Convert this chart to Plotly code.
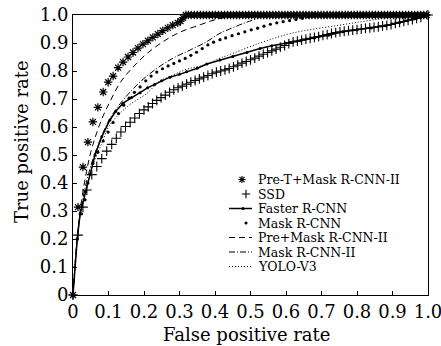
import plotly.graph_objects as go

# ---------------- data ----------------
pret_x = [0, 0.014, 0.028, 0.042, 0.056, 0.070, 0.085, 0.099, 0.113, 0.127, 0.141, 0.155,
          0.169, 0.183, 0.197, 0.211, 0.225, 0.239, 0.253, 0.267, 0.281, 0.295, 0.303, 0.310,
          0.318,
          0.325, 0.333, 0.342, 0.350, 0.359, 0.367, 0.376, 0.384, 0.393, 0.401, 0.410, 0.418,
          0.427, 0.435, 0.444, 0.452, 0.461, 0.469, 0.478, 0.486, 0.495, 0.503, 0.512, 0.520,
          0.529, 0.537, 0.546, 0.554, 0.563, 0.571, 0.580, 0.588, 0.597, 0.605, 0.614, 0.622,
          0.631, 0.639, 0.648, 0.656, 0.665, 0.673, 0.682, 0.690, 0.699, 0.707, 0.716, 0.724,
          0.733, 0.741, 0.750, 0.758, 0.767, 0.775, 0.784, 0.792, 0.801, 0.809, 0.818, 0.826,
          0.835, 0.843, 0.852, 0.860, 0.869, 0.877, 0.886, 0.894, 0.903, 0.911, 0.920, 0.928,
          0.937, 0.945, 0.954, 0.962, 0.971, 0.979, 0.988, 0.996]
pret_y = [0, 0.314, 0.457, 0.546, 0.618, 0.670, 0.725, 0.760, 0.782, 0.812, 0.832, 0.850,
          0.866, 0.882, 0.896, 0.908, 0.920, 0.932, 0.944, 0.954, 0.964, 0.972, 0.978, 0.990,
          1.0] + [1.0] * 80

ssd_x = [0, 0.014, 0.028, 0.039, 0.053, 0.067, 0.081, 0.095, 0.109, 0.122, 0.135, 0.148,
         0.161, 0.174, 0.187, 0.200, 0.212, 0.224, 0.236, 0.248, 0.260, 0.272, 0.284, 0.296,
         0.308, 0.320, 0.332, 0.344, 0.356, 0.368, 0.380, 0.392, 0.404, 0.416, 0.428, 0.440,
         0.452, 0.464, 0.476, 0.488, 0.500, 0.512, 0.524, 0.536, 0.548, 0.560, 0.572, 0.584,
         0.596, 0.608, 0.620, 0.632, 0.644, 0.656, 0.668, 0.680, 0.692, 0.704, 0.716, 0.728,
         0.740, 0.752, 0.764, 0.776, 0.788, 0.800, 0.812, 0.824, 0.836, 0.848, 0.860, 0.872,
         0.884, 0.896, 0.908, 0.920, 0.932, 0.944, 0.956, 0.968, 0.980, 1.0]
ssd_y = [0, 0.214, 0.314, 0.375, 0.430, 0.459, 0.487, 0.514, 0.538, 0.560, 0.582, 0.602,
         0.617, 0.632, 0.648, 0.661, 0.672, 0.684, 0.695, 0.705, 0.714, 0.724, 0.733, 0.740,
         0.746, 0.753, 0.760, 0.766, 0.772, 0.778, 0.784, 0.790, 0.796, 0.800, 0.804, 0.809,
         0.815, 0.821, 0.828, 0.834, 0.840, 0.846, 0.853, 0.860, 0.866, 0.872, 0.878, 0.885,
         0.891, 0.898, 0.904, 0.907, 0.910, 0.914, 0.917, 0.920, 0.923, 0.927, 0.930, 0.934,
         0.937, 0.940, 0.942, 0.944, 0.946, 0.948, 0.950, 0.952, 0.954, 0.956, 0.958, 0.961,
         0.963, 0.966, 0.970, 0.974, 0.977, 0.981, 0.984, 0.988, 0.992, 1.0]

faster_x = [0, 0.005, 0.012, 0.020, 0.035, 0.048, 0.062, 0.081, 0.104, 0.120, 0.141, 0.165,
            0.189, 0.210, 0.230, 0.250, 0.273, 0.300, 0.320, 0.350, 0.377, 0.414, 0.450,
            0.490, 0.527, 0.560, 0.600, 0.640, 0.680, 0.720, 0.760, 0.800, 0.840, 0.880,
            0.920, 0.960, 1.0]
faster_y = [0, 0.100, 0.200, 0.290, 0.370, 0.430, 0.500, 0.565, 0.625, 0.655, 0.685, 0.705,
            0.722, 0.740, 0.752, 0.765, 0.778, 0.788, 0.797, 0.810, 0.825, 0.839, 0.852,
            0.866, 0.880, 0.890, 0.899, 0.908, 0.918, 0.928, 0.940, 0.947, 0.954, 0.962,
            0.973, 0.986, 1.0]

mask_x = [0, 0.012, 0.024, 0.034, 0.042, 0.056, 0.070, 0.085, 0.099, 0.113, 0.128, 0.143,
          0.158, 0.173, 0.189, 0.205, 0.220, 0.236, 0.252, 0.268, 0.284, 0.300, 0.316, 0.332,
          0.348, 0.364, 0.380, 0.396, 0.414, 0.430, 0.448, 0.466, 0.484, 0.502, 0.520, 0.538,
          0.556, 0.574, 0.592, 0.610, 0.628, 0.646, 0.664, 0.682, 0.700, 0.750, 0.800, 0.850,
          0.900, 0.950, 1.0]
mask_y = [0, 0.200, 0.290, 0.340, 0.400, 0.470, 0.510, 0.550, 0.582, 0.616, 0.648, 0.678,
          0.703, 0.724, 0.743, 0.765, 0.782, 0.796, 0.808, 0.818, 0.827, 0.836, 0.845, 0.856,
          0.867, 0.880, 0.893, 0.903, 0.912, 0.918, 0.926, 0.933, 0.940, 0.947, 0.953, 0.960,
          0.967, 0.972, 0.976, 0.980, 0.984, 0.988, 0.993, 0.997, 1.0, 1.0, 1.0, 1.0,
          1.0, 1.0, 1.0]

premask_x = [0, 0.010, 0.020, 0.035, 0.050, 0.067, 0.085, 0.104, 0.132, 0.169, 0.208, 0.254,
             0.300, 0.358, 0.405, 0.450, 0.500, 1.0]
premask_y = [0, 0.180, 0.300, 0.420, 0.510, 0.580, 0.640, 0.690, 0.757, 0.814, 0.862, 0.905,
             0.938, 0.965, 0.985, 0.995, 1.0, 1.0]

maskii_x = [0, 0.020, 0.050, 0.080, 0.104, 0.141, 0.189, 0.237, 0.282, 0.330, 0.377, 0.414,
            0.434, 0.480, 0.507, 0.550, 1.0]
maskii_y = [0, 0.290, 0.460, 0.565, 0.630, 0.696, 0.761, 0.810, 0.846, 0.875, 0.905, 0.935,
            0.946, 0.970, 0.982, 1.0, 1.0]

yolo_x = [0, 0.020, 0.050, 0.067, 0.085, 0.100, 0.152, 0.208, 0.245, 0.265, 0.320, 0.377,
          0.414, 0.434, 0.527, 0.620, 0.752, 0.845, 0.950, 1.0]
yolo_y = [0, 0.280, 0.440, 0.500, 0.553, 0.600, 0.672, 0.720, 0.765, 0.776, 0.806, 0.824,
          0.846, 0.855, 0.900, 0.936, 0.964, 0.982, 1.0, 1.0]

names = ["Pre-T+Mask R-CNN-II", "SSD", "Faster R-CNN", "Mask R-CNN",
         "Pre+Mask R-CNN-II", "Mask R-CNN-II", "YOLO-V3"]

tick_vals = [0, 0.1, 0.2, 0.3, 0.4, 0.5, 0.6, 0.7, 0.8, 0.9, 1.0]
tick_text = ["0", "0.1", "0.2", "0.3", "0.4", "0.5", "0.6", "0.7", "0.8", "0.9", "1.0"]

x_title = "False positive rate"
y_title = "True positive rate"

# ---------------- styles ----------------
FONT = "DejaVu Serif"
W, H = 441, 346
ML, MR, MT, MB = 73, 13, 15, 51
PW, PH = W - ML - MR, H - MT - MB

asterisk = dict(symbol="asterisk-open", size=7, color="black", line=dict(color="black", width=1.2))
plus = dict(symbol="cross-thin-open", size=7, color="black", line=dict(color="black", width=1.1))
dot = dict(symbol="circle", size=3.2, color="black")
fdot = dict(symbol="circle", size=3, color="black")

series = [
    dict(x=pret_x, y=pret_y, mode="markers", marker=asterisk),
    dict(x=ssd_x, y=ssd_y, mode="markers", marker=plus),
    dict(x=faster_x, y=faster_y, mode="lines+markers", marker=fdot,
         line=dict(color="black", width=1.5)),
    dict(x=mask_x, y=mask_y, mode="markers", marker=dot),
    dict(x=premask_x, y=premask_y, mode="lines",
         line=dict(color="black", width=1, dash="6px,4px", shape="spline")),
    dict(x=maskii_x, y=maskii_y, mode="lines",
         line=dict(color="black", width=1, dash="6px,2px,1px,2px", shape="spline")),
    dict(x=yolo_x, y=yolo_y, mode="lines",
         line=dict(color="black", width=1, dash="1px,2px", shape="spline")),
]

fig = go.Figure()
for nm, s in zip(names, series):
    fig.add_trace(go.Scatter(name=nm, showlegend=False, cliponaxis=False, **s))


def fx(px):
    return (px - ML) / PW


def fy(py):
    return (MT + PH - py) / PH


# ---------------- custom legend (drawn on a helper overlay axis) ----------------
row0, rowgap = 179.5, 14.5
line_l, line_r, text_l = 229, 252, 257
marker_px = [242, 246, 243, 246]
legend_marker_size = [6, 6, None, 3]
for i, (nm, s) in enumerate(zip(names, series)):
    yy = fy(row0 + rowgap * i)
    if s["mode"] == "markers":
        mk = dict(s["marker"])
        mk["size"] = legend_marker_size[i]
        fig.add_trace(go.Scatter(x=[fx(marker_px[i])], y=[yy], mode="markers",
                                 marker=mk, xaxis="x2", yaxis="y2",
                                 showlegend=False, hoverinfo="skip", cliponaxis=False))
    else:
        fig.add_trace(go.Scatter(x=[fx(line_l), fx(line_r)], y=[yy, yy], mode="lines",
                                 line=dict(color="black", width=s["line"]["width"],
                                           dash=s["line"].get("dash", "solid")),
                                 xaxis="x2", yaxis="y2", showlegend=False,
                                 hoverinfo="skip", cliponaxis=False))
        if s["mode"] == "lines+markers":
            fig.add_trace(go.Scatter(x=[fx(243)], y=[yy], mode="markers", marker=s["marker"],
                                     xaxis="x2", yaxis="y2", showlegend=False,
                                     hoverinfo="skip", cliponaxis=False))
    fig.add_annotation(x=fx(text_l), y=yy, xref="paper", yref="paper", text=nm,
                       showarrow=False, xanchor="left", yanchor="middle", borderpad=0,
                       font=dict(family=FONT, size=12.5, color="black"))

# axis titles placed as in the reference
fig.add_annotation(x=fx(246), y=fy(334), xref="paper", yref="paper", text=x_title,
                   showarrow=False, xanchor="center", yanchor="middle", borderpad=0,
                   font=dict(family=FONT, size=18, color="black"))
fig.add_annotation(x=fx(21), y=fy(142), xref="paper", yref="paper", text=y_title,
                   showarrow=False, xanchor="center", yanchor="middle", textangle=-90,
                   borderpad=0, font=dict(family=FONT, size=18, color="black"))

axis_common = dict(range=[0, 1], tickvals=tick_vals, ticktext=tick_text, ticks="inside",
                   ticklen=4, tickwidth=1, tickcolor="black", showline=True, mirror=True,
                   linecolor="black", linewidth=1, showgrid=False, zeroline=False,
                   automargin=False, ticklabeloverflow="allow",
                   tickfont=dict(family=FONT, size=18, color="black"))

fig.update_layout(
    width=W, height=H,
    margin=dict(l=ML, r=MR, t=MT, b=MB, pad=0, autoexpand=False),
    paper_bgcolor="white", plot_bgcolor="white",
    showlegend=False,
    font=dict(family=FONT, color="black"),
    xaxis=dict(**axis_common),
    yaxis=dict(**axis_common),
    xaxis2=dict(overlaying="x", range=[0, 1], visible=False),
    yaxis2=dict(overlaying="y", range=[0, 1], visible=False),
)

fig.write_html("out.html")
